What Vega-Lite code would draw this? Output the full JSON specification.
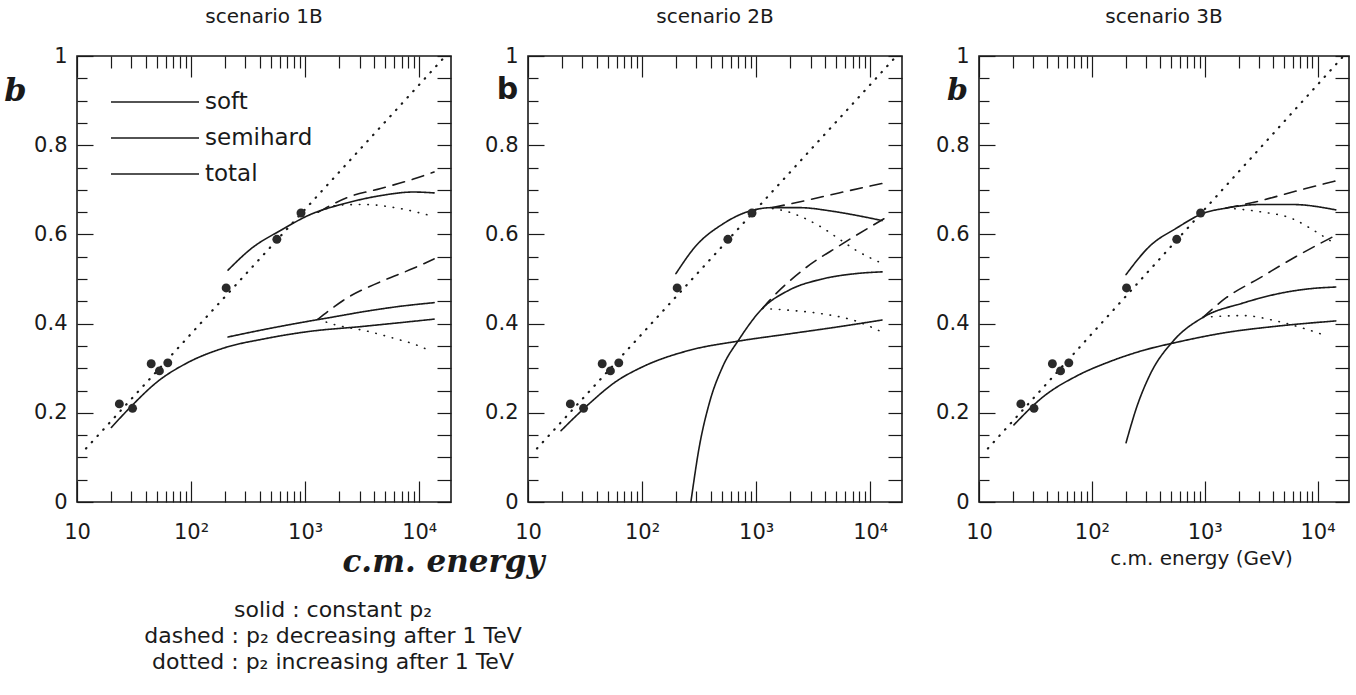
{
  "$schema": "https://vega.github.io/schema/vega-lite/v6.json",
  "background": "white",
  "autosize": {"type": "pad"},
  "padding": {"left": 3, "top": 6, "right": 4, "bottom": 4},
  "bounds": "flush",
  "spacing": 77,
  "title": {
    "text": ["solid : constant p₂", "dashed : p₂ decreasing after 1 TeV", "dotted : p₂ increasing after 1 TeV"],
    "orient": "bottom", "anchor": "start", "align": "center", "dx": 330, "offset": 22,
    "font": "DejaVu Sans", "fontSize": 22, "fontWeight": "normal", "lineHeight": 26, "color": "#1a1a1a"
  },
  "datasets": {
    "points": [
      {"E": 23.5, "b": 0.22}, {"E": 30.7, "b": 0.21}, {"E": 44.7, "b": 0.31}, {"E": 52.8, "b": 0.294},
      {"E": 62.5, "b": 0.312}, {"E": 203, "b": 0.48}, {"E": 565, "b": 0.589}, {"E": 920, "b": 0.648}
    ],
    "diag": [{"E": 12, "b": 0.12}, {"E": 17000, "b": 1.0}],
    "curves": [
      {"panel":"1B","comp":"soft","style":"solid","E":20,"b":0.167},
      {"panel":"1B","comp":"soft","style":"solid","E":30,"b":0.215},
      {"panel":"1B","comp":"soft","style":"solid","E":52,"b":0.272},
      {"panel":"1B","comp":"soft","style":"solid","E":88,"b":0.309},
      {"panel":"1B","comp":"soft","style":"solid","E":198,"b":0.346},
      {"panel":"1B","comp":"soft","style":"solid","E":442,"b":0.366},
      {"panel":"1B","comp":"soft","style":"solid","E":1055,"b":0.382},
      {"panel":"1B","comp":"soft","style":"solid","E":3300,"b":0.394},
      {"panel":"1B","comp":"soft","style":"solid","E":13500,"b":0.41},
      {"panel":"1B","comp":"semihard","style":"solid","E":211,"b":0.37},
      {"panel":"1B","comp":"semihard","style":"solid","E":442,"b":0.387},
      {"panel":"1B","comp":"semihard","style":"solid","E":1055,"b":0.405},
      {"panel":"1B","comp":"semihard","style":"solid","E":1690,"b":0.414},
      {"panel":"1B","comp":"semihard","style":"solid","E":3300,"b":0.427},
      {"panel":"1B","comp":"semihard","style":"solid","E":6450,"b":0.438},
      {"panel":"1B","comp":"semihard","style":"solid","E":13500,"b":0.447},
      {"panel":"1B","comp":"semihard","style":"dashed","E":1300,"b":0.41},
      {"panel":"1B","comp":"semihard","style":"dashed","E":2350,"b":0.458},
      {"panel":"1B","comp":"semihard","style":"dashed","E":4600,"b":0.494},
      {"panel":"1B","comp":"semihard","style":"dashed","E":8900,"b":0.524},
      {"panel":"1B","comp":"semihard","style":"dashed","E":13500,"b":0.545},
      {"panel":"1B","comp":"semihard","style":"dotted","E":1300,"b":0.41},
      {"panel":"1B","comp":"semihard","style":"dotted","E":1690,"b":0.4},
      {"panel":"1B","comp":"semihard","style":"dotted","E":3650,"b":0.382},
      {"panel":"1B","comp":"semihard","style":"dotted","E":6230,"b":0.366},
      {"panel":"1B","comp":"semihard","style":"dotted","E":9000,"b":0.354},
      {"panel":"1B","comp":"semihard","style":"dotted","E":13000,"b":0.337},
      {"panel":"1B","comp":"total","style":"solid","E":211,"b":0.52},
      {"panel":"1B","comp":"total","style":"solid","E":340,"b":0.569},
      {"panel":"1B","comp":"total","style":"solid","E":620,"b":0.61},
      {"panel":"1B","comp":"total","style":"solid","E":1055,"b":0.642},
      {"panel":"1B","comp":"total","style":"solid","E":2360,"b":0.671},
      {"panel":"1B","comp":"total","style":"solid","E":4600,"b":0.687},
      {"panel":"1B","comp":"total","style":"solid","E":8900,"b":0.695},
      {"panel":"1B","comp":"total","style":"solid","E":13500,"b":0.693},
      {"panel":"1B","comp":"total","style":"dashed","E":1300,"b":0.65},
      {"panel":"1B","comp":"total","style":"dashed","E":2360,"b":0.683},
      {"panel":"1B","comp":"total","style":"dashed","E":4600,"b":0.703},
      {"panel":"1B","comp":"total","style":"dashed","E":8900,"b":0.724},
      {"panel":"1B","comp":"total","style":"dashed","E":13500,"b":0.74},
      {"panel":"1B","comp":"total","style":"dotted","E":1300,"b":0.65},
      {"panel":"1B","comp":"total","style":"dotted","E":2040,"b":0.666},
      {"panel":"1B","comp":"total","style":"dotted","E":3300,"b":0.667},
      {"panel":"1B","comp":"total","style":"dotted","E":6450,"b":0.659},
      {"panel":"1B","comp":"total","style":"dotted","E":12600,"b":0.642},

      {"panel":"2B","comp":"soft","style":"solid","E":19.5,"b":0.16},
      {"panel":"2B","comp":"soft","style":"solid","E":34.6,"b":0.221},
      {"panel":"2B","comp":"soft","style":"solid","E":59,"b":0.27},
      {"panel":"2B","comp":"soft","style":"solid","E":101,"b":0.303},
      {"panel":"2B","comp":"soft","style":"solid","E":259,"b":0.34},
      {"panel":"2B","comp":"soft","style":"solid","E":710,"b":0.361},
      {"panel":"2B","comp":"soft","style":"solid","E":1945,"b":0.377},
      {"panel":"2B","comp":"soft","style":"solid","E":5320,"b":0.393},
      {"panel":"2B","comp":"soft","style":"solid","E":12700,"b":0.408},
      {"panel":"2B","comp":"semihard","style":"solid","E":268,"b":0},
      {"panel":"2B","comp":"semihard","style":"solid","E":317,"b":0.123},
      {"panel":"2B","comp":"semihard","style":"solid","E":388,"b":0.221},
      {"panel":"2B","comp":"semihard","style":"solid","E":508,"b":0.303},
      {"panel":"2B","comp":"semihard","style":"solid","E":710,"b":0.365},
      {"panel":"2B","comp":"semihard","style":"solid","E":1135,"b":0.434},
      {"panel":"2B","comp":"semihard","style":"solid","E":1945,"b":0.475},
      {"panel":"2B","comp":"semihard","style":"solid","E":3800,"b":0.5},
      {"panel":"2B","comp":"semihard","style":"solid","E":7450,"b":0.512},
      {"panel":"2B","comp":"semihard","style":"solid","E":12700,"b":0.516},
      {"panel":"2B","comp":"semihard","style":"dashed","E":1135,"b":0.434},
      {"panel":"2B","comp":"semihard","style":"dashed","E":1345,"b":0.455},
      {"panel":"2B","comp":"semihard","style":"dashed","E":2720,"b":0.525},
      {"panel":"2B","comp":"semihard","style":"dashed","E":5320,"b":0.574},
      {"panel":"2B","comp":"semihard","style":"dashed","E":13200,"b":0.635},
      {"panel":"2B","comp":"semihard","style":"dotted","E":1135,"b":0.434},
      {"panel":"2B","comp":"semihard","style":"dotted","E":1945,"b":0.43},
      {"panel":"2B","comp":"semihard","style":"dotted","E":3800,"b":0.422},
      {"panel":"2B","comp":"semihard","style":"dotted","E":7450,"b":0.406},
      {"panel":"2B","comp":"semihard","style":"dotted","E":12700,"b":0.381},
      {"panel":"2B","comp":"total","style":"solid","E":198,"b":0.512},
      {"panel":"2B","comp":"total","style":"solid","E":296,"b":0.574},
      {"panel":"2B","comp":"total","style":"solid","E":508,"b":0.623},
      {"panel":"2B","comp":"total","style":"solid","E":870,"b":0.652},
      {"panel":"2B","comp":"total","style":"solid","E":1390,"b":0.66},
      {"panel":"2B","comp":"total","style":"solid","E":2380,"b":0.66},
      {"panel":"2B","comp":"total","style":"solid","E":4650,"b":0.652},
      {"panel":"2B","comp":"total","style":"solid","E":7450,"b":0.643},
      {"panel":"2B","comp":"total","style":"solid","E":12700,"b":0.631},
      {"panel":"2B","comp":"total","style":"dashed","E":1390,"b":0.66},
      {"panel":"2B","comp":"total","style":"dashed","E":2720,"b":0.676},
      {"panel":"2B","comp":"total","style":"dashed","E":5320,"b":0.693},
      {"panel":"2B","comp":"total","style":"dashed","E":13200,"b":0.715},
      {"panel":"2B","comp":"total","style":"dotted","E":1390,"b":0.658},
      {"panel":"2B","comp":"total","style":"dotted","E":1945,"b":0.65},
      {"panel":"2B","comp":"total","style":"dotted","E":2720,"b":0.635},
      {"panel":"2B","comp":"total","style":"dotted","E":3800,"b":0.615},
      {"panel":"2B","comp":"total","style":"dotted","E":5320,"b":0.59},
      {"panel":"2B","comp":"total","style":"dotted","E":7450,"b":0.565},
      {"panel":"2B","comp":"total","style":"dotted","E":12700,"b":0.535},

      {"panel":"3B","comp":"soft","style":"solid","E":20.4,"b":0.173},
      {"panel":"3B","comp":"soft","style":"solid","E":37.5,"b":0.237},
      {"panel":"3B","comp":"soft","style":"solid","E":74,"b":0.283},
      {"panel":"3B","comp":"soft","style":"solid","E":145,"b":0.315},
      {"panel":"3B","comp":"soft","style":"solid","E":286,"b":0.34},
      {"panel":"3B","comp":"soft","style":"solid","E":562,"b":0.358},
      {"panel":"3B","comp":"soft","style":"solid","E":1550,"b":0.38},
      {"panel":"3B","comp":"soft","style":"solid","E":4290,"b":0.394},
      {"panel":"3B","comp":"soft","style":"solid","E":14500,"b":0.406},
      {"panel":"3B","comp":"semihard","style":"solid","E":201,"b":0.133},
      {"panel":"3B","comp":"semihard","style":"solid","E":250,"b":0.213},
      {"panel":"3B","comp":"semihard","style":"solid","E":327,"b":0.285},
      {"panel":"3B","comp":"semihard","style":"solid","E":526,"b":0.361},
      {"panel":"3B","comp":"semihard","style":"solid","E":967,"b":0.414},
      {"panel":"3B","comp":"semihard","style":"solid","E":2180,"b":0.446},
      {"panel":"3B","comp":"semihard","style":"solid","E":4290,"b":0.466},
      {"panel":"3B","comp":"semihard","style":"solid","E":8430,"b":0.478},
      {"panel":"3B","comp":"semihard","style":"solid","E":14500,"b":0.482},
      {"panel":"3B","comp":"semihard","style":"dashed","E":967,"b":0.414},
      {"panel":"3B","comp":"semihard","style":"dashed","E":1550,"b":0.458},
      {"panel":"3B","comp":"semihard","style":"dashed","E":3060,"b":0.502},
      {"panel":"3B","comp":"semihard","style":"dashed","E":6010,"b":0.546},
      {"panel":"3B","comp":"semihard","style":"dashed","E":14500,"b":0.598},
      {"panel":"3B","comp":"semihard","style":"dotted","E":967,"b":0.414},
      {"panel":"3B","comp":"semihard","style":"dotted","E":2180,"b":0.418},
      {"panel":"3B","comp":"semihard","style":"dotted","E":4290,"b":0.406},
      {"panel":"3B","comp":"semihard","style":"dotted","E":7380,"b":0.39},
      {"panel":"3B","comp":"semihard","style":"dotted","E":11900,"b":0.373},
      {"panel":"3B","comp":"total","style":"solid","E":201,"b":0.51},
      {"panel":"3B","comp":"total","style":"solid","E":327,"b":0.574},
      {"panel":"3B","comp":"total","style":"solid","E":562,"b":0.614},
      {"panel":"3B","comp":"total","style":"solid","E":967,"b":0.647},
      {"panel":"3B","comp":"total","style":"solid","E":1550,"b":0.659},
      {"panel":"3B","comp":"total","style":"solid","E":3060,"b":0.667},
      {"panel":"3B","comp":"total","style":"solid","E":6010,"b":0.667},
      {"panel":"3B","comp":"total","style":"solid","E":14500,"b":0.655},
      {"panel":"3B","comp":"total","style":"dashed","E":1550,"b":0.659},
      {"panel":"3B","comp":"total","style":"dashed","E":3060,"b":0.675},
      {"panel":"3B","comp":"total","style":"dashed","E":6010,"b":0.695},
      {"panel":"3B","comp":"total","style":"dashed","E":14500,"b":0.72},
      {"panel":"3B","comp":"total","style":"dotted","E":1550,"b":0.659},
      {"panel":"3B","comp":"total","style":"dotted","E":3060,"b":0.651},
      {"panel":"3B","comp":"total","style":"dotted","E":6010,"b":0.635},
      {"panel":"3B","comp":"total","style":"dotted","E":9660,"b":0.606},
      {"panel":"3B","comp":"total","style":"dotted","E":14500,"b":0.578}
    ]
  },
  "hconcat": [
    {
      "width": 374, "height": 446,
      "title": {"text": "scenario 1B", "offset": 18, "frame": "group"},
      "layer": [
        {
          "data": {"name": "curves"},
          "transform": [{"filter": "datum.panel == '1B'"}],
          "mark": {"type": "line", "interpolate": "monotone", "strokeCap": "round"},
          "encoding": {
            "x": {"field": "E", "type": "quantitative", "scale": {"type": "log", "domain": [10, 19000], "nice": false},
              "axis": {"orient": "bottom",
                "values": [10,20,30,40,50,60,70,80,90,100,200,300,400,500,600,700,800,900,1000,2000,3000,4000,5000,6000,7000,8000,9000,10000],
                "tickSize": {"condition": {"test": "abs(log(datum.value)/LN10 - round(log(datum.value)/LN10)) < 0.001", "value": -21}, "value": -11},
                "labelExpr": "datum.value == 10 ? '10' : datum.value == 100 ? '10²' : datum.value == 1000 ? '10³' : datum.value == 10000 ? '10⁴' : ''",
                "labelPadding": 40,
                "title": "c.m. energy", "titleFont": "DejaVu Serif", "titleFontStyle": "italic", "titleFontWeight": "bold", "titleFontSize": 31,
                "titleX": 366, "titleY": 69, "titleAlign": "center", "titleBaseline": "alphabetic"}},
            "y": {"field": "b", "type": "quantitative", "scale": {"domain": [0, 1], "nice": false, "zero": false},
              "axis": {"orient": "left",
                "values": [0,0.05,0.1,0.15,0.2,0.25,0.3,0.35,0.4,0.45,0.5,0.55,0.6,0.65,0.7,0.75,0.8,0.85,0.9,0.95,1],
                "tickSize": {"condition": {"test": "abs(datum.value*5 - round(datum.value*5)) < 0.001", "value": -16}, "value": -10},
                "labelExpr": "abs(datum.value*5 - round(datum.value*5)) < 0.001 ? (datum.value < 0.001 ? '0' : datum.value > 0.999 ? '1' : format(datum.value, '.1f')) : ''",
                "labelPadding": 26,
                "title": "b", "titleAngle": 0, "titleX": -62, "titleY": 34, "titleAlign": "center", "titleBaseline": "middle",
                "titleFont": "DejaVu Serif", "titleFontStyle": "italic", "titleFontWeight": "bold", "titleFontSize": 32}},
            "color": {"field": "comp", "type": "nominal",
              "scale": {"domain": ["soft", "semihard", "total"], "range": ["#1a1a1a", "#1a1a1a", "#1a1a1a"]},
              "legend": {"orient": "none", "legendX": 66, "legendY": 34, "title": null, "symbolType": "M-4,0H4", "symbolSize": 484,
                "labelFont": "DejaVu Sans", "labelFontSize": 23, "labelOffset": 38, "rowPadding": 12, "padding": 0, "labelColor": "#1a1a1a"}},
            "strokeWidth": {"field": "comp", "type": "nominal",
              "scale": {"domain": ["soft", "semihard", "total"], "range": [1.6, 1.6, 2.4]},
              "legend": {"orient": "none", "legendX": 66, "legendY": 34, "title": null, "symbolType": "M-4,0H4", "symbolSize": 484,
                "labelFont": "DejaVu Sans", "labelFontSize": 23, "labelOffset": 38, "rowPadding": 12, "padding": 0, "labelColor": "#1a1a1a"}},
            "strokeDash": {"field": "style", "type": "nominal",
              "scale": {"domain": ["solid", "dashed", "dotted"], "range": [[1, 0], [12, 8], [0.5, 8]]}, "legend": null}
          }
        },
        {
          "data": {"name": "diag"},
          "mark": {"type": "line", "strokeDash": [0.5, 8], "strokeCap": "round", "strokeWidth": 2.2, "color": "#1a1a1a"},
          "encoding": {
            "x": {"field": "E", "type": "quantitative", "scale": {"type": "log", "domain": [10, 19000], "nice": false},
              "axis": {"orient": "top", "labels": false, "title": null,
                "values": [10,20,30,40,50,60,70,80,90,100,200,300,400,500,600,700,800,900,1000,2000,3000,4000,5000,6000,7000,8000,9000,10000],
                "tickSize": {"condition": {"test": "abs(log(datum.value)/LN10 - round(log(datum.value)/LN10)) < 0.001", "value": -21}, "value": -12}}},
            "y": {"field": "b", "type": "quantitative", "scale": {"domain": [0, 1], "nice": false, "zero": false},
              "axis": {"orient": "right", "labels": false, "title": null,
                "values": [0,0.05,0.1,0.15,0.2,0.25,0.3,0.35,0.4,0.45,0.5,0.55,0.6,0.65,0.7,0.75,0.8,0.85,0.9,0.95,1],
                "tickSize": -14}}
          }
        },
        {
          "data": {"name": "points"},
          "mark": {"type": "circle", "size": 80, "color": "#2a2a2a", "opacity": 1},
          "encoding": {
            "x": {"field": "E", "type": "quantitative", "scale": {"type": "log", "domain": [10, 19000], "nice": false}, "axis": null},
            "y": {"field": "b", "type": "quantitative", "scale": {"domain": [0, 1], "nice": false, "zero": false}, "axis": null}
          }
        }
      ],
      "resolve": {"axis": {"x": "independent", "y": "independent"}}
    },
    {
      "width": 374, "height": 446,
      "title": {"text": "scenario 2B", "offset": 18, "frame": "group"},
      "layer": [
        {
          "data": {"name": "curves"},
          "transform": [{"filter": "datum.panel == '2B'"}],
          "mark": {"type": "line", "interpolate": "monotone", "strokeCap": "round"},
          "encoding": {
            "x": {"field": "E", "type": "quantitative", "scale": {"type": "log", "domain": [10, 19000], "nice": false},
              "axis": {"orient": "bottom",
                "values": [10,20,30,40,50,60,70,80,90,100,200,300,400,500,600,700,800,900,1000,2000,3000,4000,5000,6000,7000,8000,9000,10000],
                "tickSize": {"condition": {"test": "abs(log(datum.value)/LN10 - round(log(datum.value)/LN10)) < 0.001", "value": -21}, "value": -11},
                "labelExpr": "datum.value == 10 ? '10' : datum.value == 100 ? '10²' : datum.value == 1000 ? '10³' : datum.value == 10000 ? '10⁴' : ''",
                "labelPadding": 40, "title": null}},
            "y": {"field": "b", "type": "quantitative", "scale": {"domain": [0, 1], "nice": false, "zero": false},
              "axis": {"orient": "left",
                "values": [0,0.05,0.1,0.15,0.2,0.25,0.3,0.35,0.4,0.45,0.5,0.55,0.6,0.65,0.7,0.75,0.8,0.85,0.9,0.95,1],
                "tickSize": {"condition": {"test": "abs(datum.value*5 - round(datum.value*5)) < 0.001", "value": -16}, "value": -10},
                "labelExpr": "abs(datum.value*5 - round(datum.value*5)) < 0.001 ? (datum.value < 0.001 ? '0' : datum.value > 0.999 ? '1' : format(datum.value, '.1f')) : ''",
                "labelPadding": 26,
                "title": "b", "titleAngle": 0, "titleX": -21, "titleY": 33, "titleAlign": "center", "titleBaseline": "middle",
                "titleFont": "DejaVu Sans", "titleFontWeight": "bold", "titleFontSize": 30}},
            "color": {"field": "comp", "type": "nominal",
              "scale": {"domain": ["soft", "semihard", "total"], "range": ["#1a1a1a", "#1a1a1a", "#1a1a1a"]}, "legend": null},
            "strokeWidth": {"field": "comp", "type": "nominal",
              "scale": {"domain": ["soft", "semihard", "total"], "range": [1.6, 1.6, 2.4]}, "legend": null},
            "strokeDash": {"field": "style", "type": "nominal",
              "scale": {"domain": ["solid", "dashed", "dotted"], "range": [[1, 0], [12, 8], [0.5, 8]]}, "legend": null}
          }
        },
        {
          "data": {"name": "diag"},
          "mark": {"type": "line", "strokeDash": [0.5, 8], "strokeCap": "round", "strokeWidth": 2.2, "color": "#1a1a1a"},
          "encoding": {
            "x": {"field": "E", "type": "quantitative", "scale": {"type": "log", "domain": [10, 19000], "nice": false},
              "axis": {"orient": "top", "labels": false, "title": null,
                "values": [10,20,30,40,50,60,70,80,90,100,200,300,400,500,600,700,800,900,1000,2000,3000,4000,5000,6000,7000,8000,9000,10000],
                "tickSize": {"condition": {"test": "abs(log(datum.value)/LN10 - round(log(datum.value)/LN10)) < 0.001", "value": -21}, "value": -12}}},
            "y": {"field": "b", "type": "quantitative", "scale": {"domain": [0, 1], "nice": false, "zero": false},
              "axis": {"orient": "right", "labels": false, "title": null,
                "values": [0,0.05,0.1,0.15,0.2,0.25,0.3,0.35,0.4,0.45,0.5,0.55,0.6,0.65,0.7,0.75,0.8,0.85,0.9,0.95,1],
                "tickSize": -14}}
          }
        },
        {
          "data": {"name": "points"},
          "mark": {"type": "circle", "size": 80, "color": "#2a2a2a", "opacity": 1},
          "encoding": {
            "x": {"field": "E", "type": "quantitative", "scale": {"type": "log", "domain": [10, 19000], "nice": false}, "axis": null},
            "y": {"field": "b", "type": "quantitative", "scale": {"domain": [0, 1], "nice": false, "zero": false}, "axis": null}
          }
        }
      ],
      "resolve": {"axis": {"x": "independent", "y": "independent"}}
    },
    {
      "width": 370, "height": 446,
      "title": {"text": "scenario 3B", "offset": 18, "frame": "group"},
      "layer": [
        {
          "data": {"name": "curves"},
          "transform": [{"filter": "datum.panel == '3B'"}],
          "mark": {"type": "line", "interpolate": "monotone", "strokeCap": "round"},
          "encoding": {
            "x": {"field": "E", "type": "quantitative", "scale": {"type": "log", "domain": [10, 19000], "nice": false},
              "axis": {"orient": "bottom",
                "values": [10,20,30,40,50,60,70,80,90,100,200,300,400,500,600,700,800,900,1000,2000,3000,4000,5000,6000,7000,8000,9000,10000],
                "tickSize": {"condition": {"test": "abs(log(datum.value)/LN10 - round(log(datum.value)/LN10)) < 0.001", "value": -21}, "value": -11},
                "labelExpr": "datum.value == 10 ? '10' : datum.value == 100 ? '10²' : datum.value == 1000 ? '10³' : datum.value == 10000 ? '10⁴' : ''",
                "labelPadding": 40,
                "title": "c.m. energy (GeV)", "titleFont": "DejaVu Sans", "titleFontWeight": "normal", "titleFontSize": 20,
                "titleX": 222, "titleY": 56, "titleAlign": "center", "titleBaseline": "middle"}},
            "y": {"field": "b", "type": "quantitative", "scale": {"domain": [0, 1], "nice": false, "zero": false},
              "axis": {"orient": "left",
                "values": [0,0.05,0.1,0.15,0.2,0.25,0.3,0.35,0.4,0.45,0.5,0.55,0.6,0.65,0.7,0.75,0.8,0.85,0.9,0.95,1],
                "tickSize": {"condition": {"test": "abs(datum.value*5 - round(datum.value*5)) < 0.001", "value": -16}, "value": -10},
                "labelExpr": "abs(datum.value*5 - round(datum.value*5)) < 0.001 ? (datum.value < 0.001 ? '0' : datum.value > 0.999 ? '1' : format(datum.value, '.1f')) : ''",
                "labelPadding": 26,
                "title": "b", "titleAngle": 0, "titleX": -22, "titleY": 34, "titleAlign": "center", "titleBaseline": "middle",
                "titleFont": "DejaVu Serif", "titleFontStyle": "italic", "titleFontWeight": "bold", "titleFontSize": 30}},
            "color": {"field": "comp", "type": "nominal",
              "scale": {"domain": ["soft", "semihard", "total"], "range": ["#1a1a1a", "#1a1a1a", "#1a1a1a"]}, "legend": null},
            "strokeWidth": {"field": "comp", "type": "nominal",
              "scale": {"domain": ["soft", "semihard", "total"], "range": [1.6, 1.6, 2.4]}, "legend": null},
            "strokeDash": {"field": "style", "type": "nominal",
              "scale": {"domain": ["solid", "dashed", "dotted"], "range": [[1, 0], [12, 8], [0.5, 8]]}, "legend": null}
          }
        },
        {
          "data": {"name": "diag"},
          "mark": {"type": "line", "strokeDash": [0.5, 8], "strokeCap": "round", "strokeWidth": 2.2, "color": "#1a1a1a"},
          "encoding": {
            "x": {"field": "E", "type": "quantitative", "scale": {"type": "log", "domain": [10, 19000], "nice": false},
              "axis": {"orient": "top", "labels": false, "title": null,
                "values": [10,20,30,40,50,60,70,80,90,100,200,300,400,500,600,700,800,900,1000,2000,3000,4000,5000,6000,7000,8000,9000,10000],
                "tickSize": {"condition": {"test": "abs(log(datum.value)/LN10 - round(log(datum.value)/LN10)) < 0.001", "value": -21}, "value": -12}}},
            "y": {"field": "b", "type": "quantitative", "scale": {"domain": [0, 1], "nice": false, "zero": false},
              "axis": {"orient": "right", "labels": false, "title": null,
                "values": [0,0.05,0.1,0.15,0.2,0.25,0.3,0.35,0.4,0.45,0.5,0.55,0.6,0.65,0.7,0.75,0.8,0.85,0.9,0.95,1],
                "tickSize": -14}}
          }
        },
        {
          "data": {"name": "points"},
          "mark": {"type": "circle", "size": 80, "color": "#2a2a2a", "opacity": 1},
          "encoding": {
            "x": {"field": "E", "type": "quantitative", "scale": {"type": "log", "domain": [10, 19000], "nice": false}, "axis": null},
            "y": {"field": "b", "type": "quantitative", "scale": {"domain": [0, 1], "nice": false, "zero": false}, "axis": null}
          }
        }
      ],
      "resolve": {"axis": {"x": "independent", "y": "independent"}}
    }
  ],
  "resolve": {"scale": {"color": "independent", "strokeWidth": "independent", "strokeDash": "independent"}},
  "config": {
    "view": {"stroke": "#1a1a1a", "strokeWidth": 1.6},
    "font": "DejaVu Sans",
    "axis": {"grid": false, "domain": false, "tickColor": "#1a1a1a", "tickWidth": 1.2, "labelColor": "#1a1a1a",
      "labelFont": "DejaVu Sans", "labelFontSize": 21, "labelFlush": false, "labelOverlap": false, "labelBound": false, "titleColor": "#1a1a1a"},
    "title": {"font": "DejaVu Sans", "fontSize": 20, "fontWeight": "normal", "color": "#1a1a1a"}
  }
}
